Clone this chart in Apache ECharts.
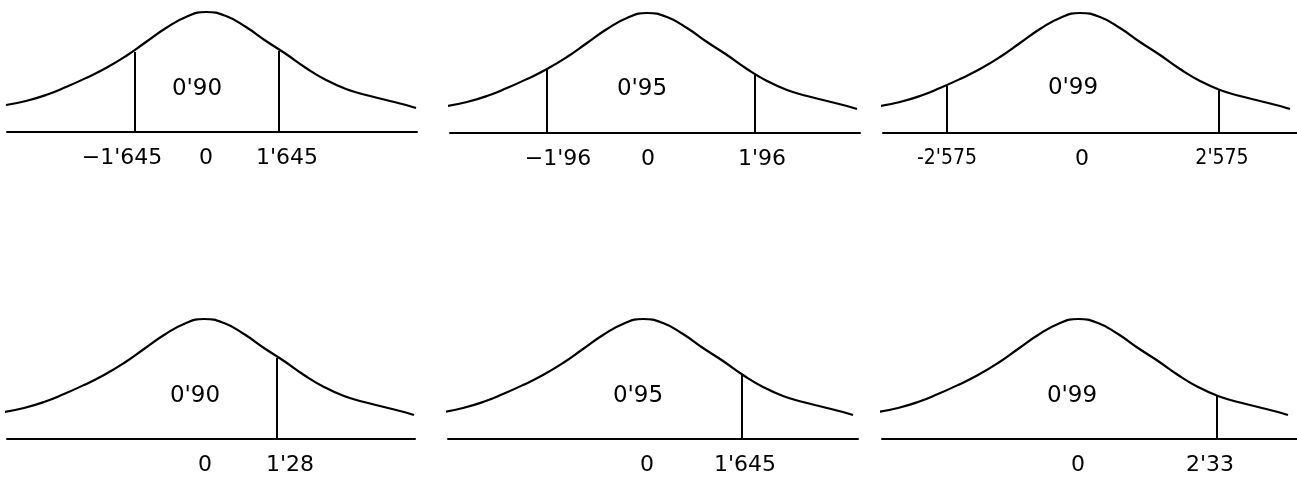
<!DOCTYPE html>
<html>
<head>
<meta charset="utf-8">
<script src="https://cdn.jsdelivr.net/npm/echarts@6/dist/echarts.min.js"></script>
<style>
html, body { margin: 0; padding: 0; background: #fff; }
#main { width: 1297px; height: 477px; }
</style>
</head>
<body>
<div id="main"></div>
<script>
// curve shape (same drawing in every panel): offset from peak, height above axis
var curveDx = [-200, -180, -160, -140, -120, -100, -80, -60, -40, -20, 0, 20, 40, 60, 80, 100, 120, 140, 160, 180, 200, 210];
var curveH = [27, 31, 37, 45, 54, 64, 76, 90, 104, 115, 120, 116, 105, 91, 78, 64, 52, 43, 37, 32, 27, 24];

// area in the middle of each panel
var areaText = ["0'90", "0'95", "0'99", "0'90", "0'95", "0'99"];
var areaX = [-9, -5, -7, -9, -5, -6];
var areaH = [43, 44, 45, 43, 43, 43];

// critical values: where the vertical lines stand and how high they go
var cutX = [[-71, 73], [-100, 108], [-133, 139], [73], [99], [139]];
var cutH = [[80, 81], [63, 59], [47, 43], [81], [64], [43]];

// labels under the axis
var tickText = [
	["\u22121'645", "0", "1'645"],
	["\u22121'96", "0", "1'96"],
	["-2'575", "0", "2'575"],
	["0", "1'28"],
	["0", "1'645"],
	["0", "2'33"]
];
var tickX = [
	[-84, 0, 81],
	[-89, 1, 115],
	[-133, 2, 142],
	[1, 86],
	[4, 102],
	[0, 132]
];

// panel layout (pixels)
var gridLeft = [7, 450, 883, 7, 448, 882];
var gridRight = [417, 860, 1297, 415, 858, 1297];
var peakX = [206, 647, 1080, 204, 643, 1078];
var baseY = [132, 133, 133, 439, 439, 439];
var curveTop = 120;

var myChart = echarts.init(document.getElementById('main'));

var grids = [], xAxes = [], yAxes = [], series = [];
for (var p = 0; p < 6; p++) {
	grids.push({
		left : gridLeft[p],
		top : baseY[p] - curveTop,
		width : gridRight[p] - gridLeft[p],
		height : curveTop
	});
	(function(p) {
		xAxes.push({
			gridIndex : p,
			type : 'value',
			min : gridLeft[p] - peakX[p],
			max : gridRight[p] - peakX[p],
			axisLine : { show : true, lineStyle : { color : '#000', width : 2 } },
			axisTick : { show : false },
			splitLine : { show : false },
			axisLabel : {
				show : true,
				customValues : tickX[p],
				margin : 15,
				color : '#000',
				fontFamily : 'DejaVu Sans',
				fontSize : 22,
				formatter : function(v) {
					var i = tickX[p].indexOf(v);
					if (i < 0) return '';
					// the 2'575 labels were written in a narrower hand
					if (p == 2 && tickText[p][i] != '0') return '{n|' + tickText[p][i] + '}';
					return tickText[p][i];
				},
				rich : {
					n : {
						fontFamily : "'Liberation Sans Narrow', 'DejaVu Sans Condensed', 'DejaVu Sans'",
						fontSize : 21,
						color : '#000'
					}
				}
			}
		});
	})(p);
	yAxes.push({
		gridIndex : p,
		type : 'value',
		min : 0,
		max : curveTop,
		show : false
	});

	var pts = [];
	for (var i = 0; i < curveDx.length; i++) {
		pts.push([curveDx[i], curveH[i]]);
	}
	series.push({
		type : 'line',
		xAxisIndex : p,
		yAxisIndex : p,
		data : pts,
		smooth : 0.5,
		showSymbol : false,
		clip : false,
		silent : true,
		z : 3,
		lineStyle : { color : '#000', width : 2.2 }
	});

	for (var c = 0; c < cutX[p].length; c++) {
		series.push({
			type : 'line',
			xAxisIndex : p,
			yAxisIndex : p,
			data : [[cutX[p][c], 0], [cutX[p][c], cutH[p][c]]],
			showSymbol : false,
			silent : true,
			z : 2,
			lineStyle : { color : '#000', width : 2 }
		});
	}

	series.push({
		type : 'scatter',
		xAxisIndex : p,
		yAxisIndex : p,
		symbolSize : 1,
		silent : true,
		itemStyle : { opacity : 0 },
		data : [[areaX[p], areaH[p]]],
		label : {
			show : true,
			position : 'inside',
			formatter : areaText[p],
			color : '#000',
			opacity : 1,
			fontFamily : 'DejaVu Sans',
			fontSize : 23
		}
	});
}

var option = {
	backgroundColor : '#fff',
	animation : false,
	grid : grids,
	xAxis : xAxes,
	yAxis : yAxes,
	series : series
};
myChart.setOption(option);
</script>
</body>
</html>
